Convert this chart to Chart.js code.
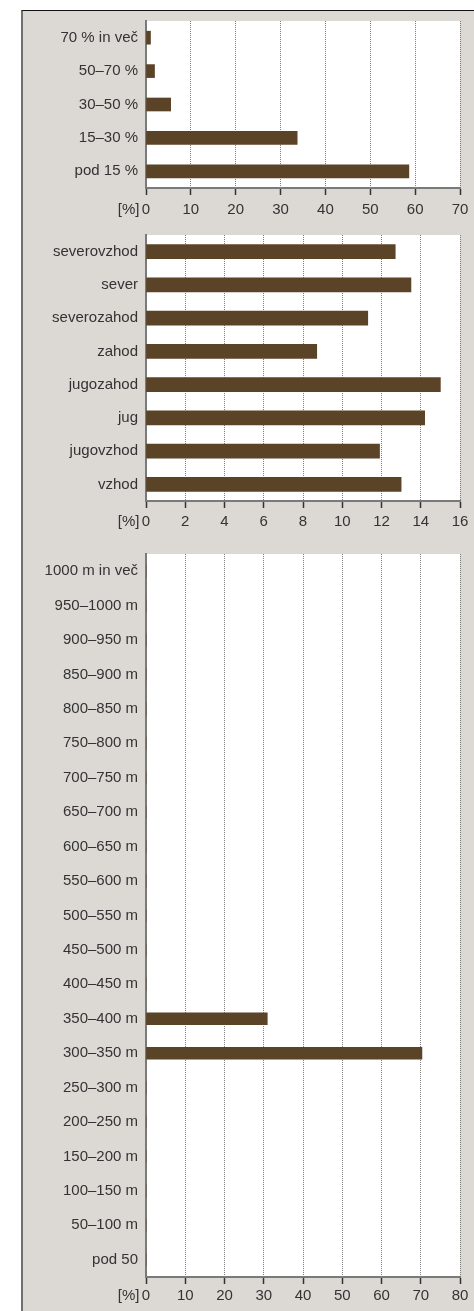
<!DOCTYPE html>
<html>
<head>
<meta charset="utf-8">
<script src="https://cdn.jsdelivr.net/npm/chart.js@4"></script>
<style>
  html, body { margin: 0; padding: 0; background: #fff; }
  body { width: 474px; height: 1311px; position: relative; overflow: hidden; }
  #frame {
    position: absolute; left: 21px; top: 10px; width: 453px; height: 1301px;
    background: #dcd9d5; border-top: 1px solid #111; border-left: 2px solid #707070;
    box-sizing: border-box;
  }
  canvas { position: absolute; left: 23px; }
</style>
</head>
<body>
<div id="frame"></div>
<canvas id="slopeChart" width="451" height="217" style="top:11px"></canvas>
<canvas id="aspectChart" width="451" height="317" style="top:228px"></canvas>
<canvas id="heightChart" width="451" height="766" style="top:545px"></canvas>
<script>
// Slope classes
const slopeLabels = ['70 % in več', '50–70 %', '30–50 %', '15–30 %', 'pod 15 %'];
const slopeValues = [1.0, 1.9, 5.5, 33.7, 58.6];
const slopeTicks = [0, 10, 20, 30, 40, 50, 60, 70];

// Aspect classes
const aspectLabels = ['severovzhod', 'sever', 'severozahod', 'zahod', 'jugozahod', 'jug', 'jugovzhod', 'vzhod'];
const aspectValues = [12.7, 13.5, 11.3, 8.7, 15.0, 14.2, 11.9, 13.0];
const aspectTicks = [0, 2, 4, 6, 8, 10, 12, 14, 16];

// Altitude classes
const heightLabels = ['1000 m in več', '950–1000 m', '900–950 m', '850–900 m', '800–850 m', '750–800 m',
  '700–750 m', '650–700 m', '600–650 m', '550–600 m', '500–550 m', '450–500 m', '400–450 m',
  '350–400 m', '300–350 m', '250–300 m', '200–250 m', '150–200 m', '100–150 m', '50–100 m', 'pod 50'];
const heightValues = [0, 0, 0, 0, 0, 0, 0, 0, 0, 0, 0, 0, 0, 30.9, 70.3, 0, 0, 0, 0, 0, 0];
const heightTicks = [0, 10, 20, 30, 40, 50, 60, 70, 80];

const textColor = '#333';
const barColor = '#5b4327';
const font = { family: "'Liberation Sans', Arial, sans-serif", size: 15 };

// white plot area + "[%]" unit label
const panelPlugin = {
  id: 'panel',
  beforeDraw(chart) {
    const a = chart.chartArea;
    const ctx = chart.ctx;
    ctx.save();
    ctx.fillStyle = '#fff';
    ctx.fillRect(a.left, a.top, a.right - a.left, a.bottom - a.top);
    ctx.restore();
  },
  afterDraw(chart) {
    const x = chart.scales.x;
    const ctx = chart.ctx;
    const o = x.options;
    ctx.save();
    ctx.fillStyle = textColor;
    ctx.font = font.size + 'px ' + font.family;
    ctx.textAlign = 'right';
    ctx.textBaseline = 'middle';
    ctx.fillText('[%]', chart.chartArea.left - 6.5, x.top + o.grid.tickLength + o.ticks.padding + font.size * 0.6);
    ctx.restore();
  }
};

function makeChart(id, labels, values, ticks, padTop, axisHeight, labelPad, barThickness) {
  return new Chart(document.getElementById(id), {
    type: 'bar',
    data: {
      labels: labels,
      datasets: [{
        data: values,
        backgroundColor: barColor,
        borderWidth: 0,
        barThickness: barThickness
      }]
    },
    options: {
      indexAxis: 'y',
      responsive: false,
      animation: false,
      devicePixelRatio: 1,
      layout: { padding: { top: padTop, right: 14, left: 0, bottom: 0 } },
      plugins: { legend: { display: false }, tooltip: { enabled: false } },
      scales: {
        x: {
          min: ticks[0],
          max: ticks[ticks.length - 1],
          ticks: { stepSize: ticks[1] - ticks[0], color: textColor, font: font, padding: labelPad, maxRotation: 0 },
          grid: { color: '#7d7d7d', lineWidth: 1, tickLength: 7, tickColor: '#333', tickWidth: 1.5 },
          border: { color: '#7a7a7a', width: 2, dash: [1, 1] },
          afterFit(s) { s.height = axisHeight; s.paddingLeft = 0; s.paddingRight = 0; }
        },
        y: {
          ticks: { color: textColor, font: font, padding: 8 },
          grid: { display: false, drawTicks: false },
          border: { color: '#7a7a7a', width: 2 },
          afterFit(s) { s.width = 123; s.paddingTop = 0; s.paddingBottom = 0; }
        }
      }
    },
    plugins: [panelPlugin]
  });
}

makeChart('slopeChart', slopeLabels, slopeValues, slopeTicks, 10, 40, 6, 13);
makeChart('aspectChart', aspectLabels, aspectValues, aspectTicks, 7, 44, 5, 14);
makeChart('heightChart', heightLabels, heightValues, heightTicks, 9, 34, 3, 12);
</script>
</body>
</html>
